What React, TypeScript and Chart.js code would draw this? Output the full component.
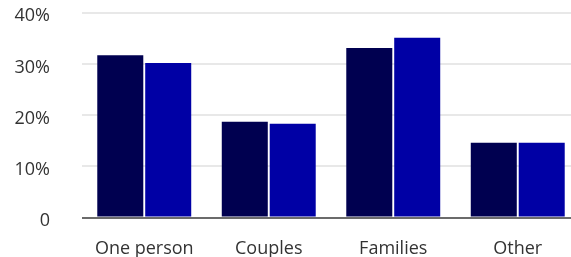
import React, { useEffect, useRef } from 'react';
import { Chart, registerables } from 'chart.js';

Chart.register(...registerables);

const categories = ['One person', 'Couples', 'Families', 'Other'];
const seriesDark = [31.7, 18.7, 33.1, 14.6];
const seriesBlue = [30.2, 18.3, 35.1, 14.6];
const yTickValues = [0, 10, 20, 30, 40];
const yTickLabels = ['0', '10%', '20%', '30%', '40%'];

export default function App() {
  const canvasRef = useRef<HTMLCanvasElement | null>(null);

  useEffect(() => {
    if (!canvasRef.current) return;
    const font = { family: "'Open Sans', sans-serif", size: 18 };
    const chart = new Chart(canvasRef.current, {
      type: 'bar',
      data: {
        labels: categories,
        datasets: [
          {
            label: 'Series 1',
            data: seriesDark,
            backgroundColor: '#000050',
            categoryPercentage: 0.77,
            barPercentage: 0.96,
          },
          {
            label: 'Series 2',
            data: seriesBlue,
            backgroundColor: '#0000A5',
            categoryPercentage: 0.77,
            barPercentage: 0.96,
          },
        ],
      },
      options: {
        animation: false,
        responsive: true,
        maintainAspectRatio: false,
        layout: { padding: { top: 12.7, left: 0, right: 0, bottom: 0 } },
        plugins: {
          legend: { display: false },
          tooltip: { enabled: false },
        },
        scales: {
          x: {
            grid: { display: false },
            border: { display: false },
            ticks: { color: '#333333', font, padding: 13, maxRotation: 0 },
            afterFit: (scale: any) => {
              scale.height = 39.5;
              scale.paddingLeft = 0;
              scale.paddingRight = 0;
            },
          },
          y: {
            min: 0,
            max: 40,
            border: { display: false },
            grid: {
              drawTicks: false,
              lineWidth: 2,
              color: (ctx: any) => (ctx.tick && ctx.tick.value === 0 ? '#6b6b6b' : '#e8e8e8'),
            },
            afterBuildTicks: (scale: any) => {
              scale.ticks = yTickValues.map((v) => ({ value: v }));
            },
            ticks: {
              color: '#333333',
              font: { ...font, lineHeight: '7px' },
              padding: 32,
              callback: (value: any) => {
                const i = yTickValues.indexOf(Number(value));
                return ['', i >= 0 ? yTickLabels[i] : ''];
              },
            },
            afterFit: (scale: any) => {
              scale.width = 82;
              scale.paddingTop = 0;
              scale.paddingBottom = 0;
            },
          },
        },
      },
    });
    return () => chart.destroy();
  }, []);

  return (
    <div
      style={{
        position: 'fixed',
        left: 0,
        top: 0,
        width: 571,
        height: 257,
        overflow: 'hidden',
        background: '#ffffff',
      }}
    >
      <div style={{ position: 'relative', width: 580, height: 257 }}>
        <canvas ref={canvasRef} />
      </div>
    </div>
  );
}
